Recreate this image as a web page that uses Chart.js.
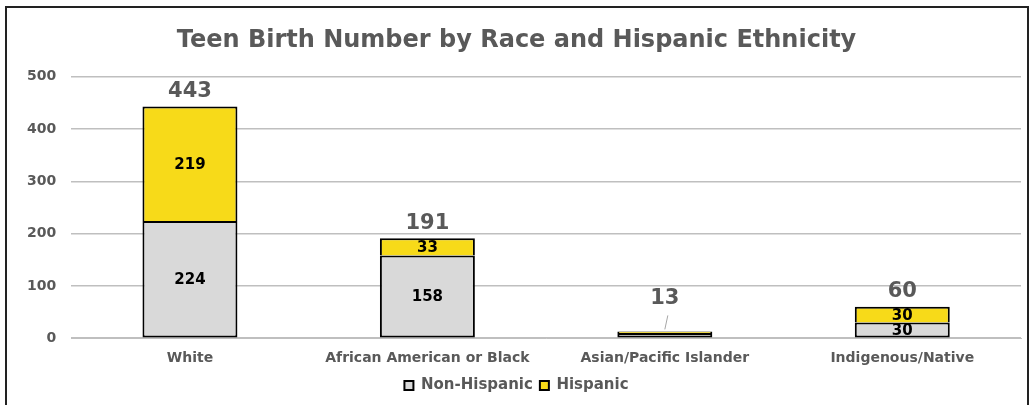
<!DOCTYPE html>
<html>
<head>
<meta charset="utf-8">
<script src="https://cdn.jsdelivr.net/npm/chart.js@4.4.0/dist/chart.umd.min.js"></script>
<style>
  html, body { margin: 0; padding: 0; background: #fff; overflow: hidden; }
  #frame { position: absolute; left: 5px; top: 6px; width: 1024px; height: 420px; border: 2px solid #222; box-sizing: border-box; }
  #wrap { position: absolute; left: 0; top: 0; width: 1033px; height: 405px; }
</style>
</head>
<body>
<div id="frame"></div>
<div id="wrap"><canvas id="chart"></canvas></div>
<script>
// valores
const categories = ['White', 'African American or Black', 'Asian/Pacific Islander', 'Indigenous/Native'];
const nonHispanic = [224, 158, 10, 30];
const hispanic = [219, 33, 3, 30];
const totals = [443, 191, 13, 60];
const yTicks = [0, 100, 200, 300, 400, 500];

const FONT = '"DejaVu Sans", sans-serif';
const GRAY = '#595959';

// rótulos dentro das barras + totais acima
const labelsPlugin = {
  id: 'labels',
  afterDatasetsDraw(chart) {
    const ctx = chart.ctx;
    const y = chart.scales.y;
    ctx.save();
    ctx.textAlign = 'center';
    ctx.textBaseline = 'middle';
    chart.data.datasets.forEach((ds, di) => {
      const meta = chart.getDatasetMeta(di);
      meta.data.forEach((bar, i) => {
        const v = ds.data[i];
        if (v < 20) return;
        const mid = (bar.y + bar.base) / 2;
        ctx.fillStyle = '#000';
        ctx.font = 'bold 15px ' + FONT;
        ctx.fillText(String(v), bar.x, mid + 1);
      });
    });
    const meta0 = chart.getDatasetMeta(0);
    meta0.data.forEach((bar, i) => {
      let ty = y.getPixelForValue(totals[i]) - 15;
      if (totals[i] < 20) {
        ty = y.getPixelForValue(totals[i]) - 33;
        ctx.strokeStyle = '#a6a6a6';
        ctx.lineWidth = 1;
        ctx.beginPath();
        ctx.moveTo(bar.x + 3, ty + 17);
        ctx.lineTo(bar.x, y.getPixelForValue(totals[i]) - 2);
        ctx.stroke();
      }
      ctx.fillStyle = GRAY;
      ctx.font = 'bold 21px ' + FONT;
      ctx.fillText(String(totals[i]), bar.x, ty);
    });
    ctx.restore();
  }
};

new Chart(document.getElementById('chart'), {
  type: 'bar',
  data: {
    labels: categories,
    datasets: [
      { label: 'Non-Hispanic', data: nonHispanic, backgroundColor: '#d9d9d9', borderColor: '#000', borderWidth: 2, borderSkipped: false, barPercentage: 0.8, categoryPercentage: 0.5 },
      { label: 'Hispanic', data: hispanic, backgroundColor: '#f7da19', borderColor: '#000', borderWidth: 2, borderSkipped: 'bottom', barPercentage: 0.8, categoryPercentage: 0.5 }
    ]
  },
  options: {
    responsive: true,
    maintainAspectRatio: false,
    animation: false,
    layout: { padding: { left: 12, right: 12, top: 6, bottom: 2 } },
    plugins: {
      title: {
        display: true,
        text: 'Teen Birth Number by Race and Hispanic Ethnicity',
        color: GRAY,
        font: { family: FONT, size: 24, weight: 'bold' },
        padding: { top: 20, bottom: 22 }
      },
      legend: {
        position: 'bottom',
        labels: {
          color: GRAY,
          font: { family: FONT, size: 15, weight: 'bold' },
          boxWidth: 9, boxHeight: 9, padding: 7
        }
      },
      tooltip: { enabled: false }
    },
    scales: {
      x: {
        stacked: true,
        grid: { display: false },
        border: { color: '#bfbfbf', width: 1 },
        ticks: { color: GRAY, font: { family: FONT, size: 14, weight: 'bold' }, padding: 4 }
      },
      y: {
        stacked: true,
        min: 0, max: 500,
        afterBuildTicks(axis) { axis.ticks = yTicks.map(v => ({ value: v })); },
        grid: { color: '#bfbfbf', lineWidth: 1.5, drawTicks: false },
        border: { display: false },
        ticks: { color: GRAY, font: { family: FONT, size: 14, weight: 'bold' }, padding: 15 }
      }
    }
  },
  plugins: [labelsPlugin]
});
</script>
</body>
</html>
